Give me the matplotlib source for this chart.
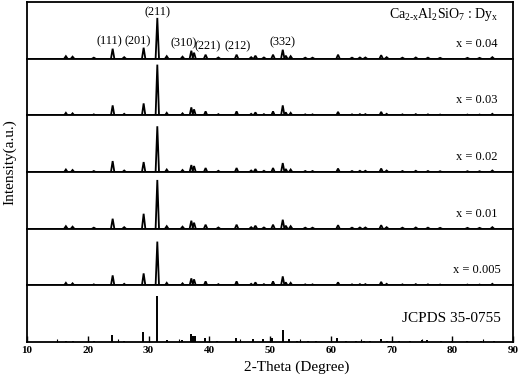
import matplotlib
matplotlib.use("Agg")
import matplotlib.pyplot as plt
from matplotlib.ticker import MultipleLocator

plt.rcParams['font.family'] = ['Liberation Serif', 'DejaVu Serif']
plt.rcParams['mathtext.fontset'] = 'custom'
plt.rcParams['mathtext.rm'] = 'Liberation Serif'
plt.rcParams['mathtext.it'] = 'Liberation Serif'

# ---- data ----
sample_labels = ["x = 0.04", "x = 0.03", "x = 0.02", "x = 0.01", "x = 0.005"]
peak_pos = [16.4, 17.5, 21.0, 24.1, 26.0, 29.2, 31.45, 33.0, 35.6, 37.05, 37.5, 39.4,
            41.5, 44.5, 46.9, 47.6, 49.0, 50.5, 52.1, 52.6, 53.4, 55.8, 57.0, 61.2,
            63.5, 64.8, 65.7, 68.3, 69.2, 71.8, 74.0, 76.0, 78.0, 82.5, 84.5, 86.6]
h_004 = [2.5, 2, 1, 10, 1.5, 11, 41, 2.5, 2, 8, 6, 4, 1.2, 4, 1.5, 3, 1.2, 4, 9, 3, 2.5,
         1, 1, 4, 1, 1.2, 1.2, 3.5, 1.5, 1, 1.2, 1, 0.8, 0.8, 0.8, 1.5]
h_003 = [2.5, 2, 1, 10, 1.5, 12, 51, 2.5, 2, 8, 6, 4, 1.2, 4, 1.5, 3, 1.2, 4, 10, 3, 2.5,
         1, 1, 3.5, 1, 1.2, 1.2, 3.5, 1.5, 1, 1.2, 1, 0.8, 0.8, 0.8, 1.5]
h_002 = [2.5, 2, 1, 11, 1.5, 10, 46, 2.5, 2, 7, 6, 4, 1.2, 4, 1.5, 3, 1.2, 4, 9, 3, 2.5,
         1, 1, 3.5, 1, 1.2, 1.2, 3.5, 1.5, 1, 1.2, 1, 0.8, 0.8, 0.8, 1.5]
h_001 = [2.5, 2, 1, 10, 1.5, 15, 49, 2.5, 2, 8, 6, 4, 1.2, 4, 1.5, 3, 1.2, 4, 9, 3, 2.5,
         1, 1, 3.5, 1, 1.2, 1.2, 3.5, 1.5, 1, 1.2, 1, 0.8, 0.8, 0.8, 1.5]
h_0005 = [2.5, 2, 1, 10, 1.5, 12, 44, 2.5, 2, 7, 6, 4, 1.2, 4, 1.5, 3, 1.2, 4, 9, 3, 2.5,
          1, 1, 3, 1, 1.2, 1.2, 3.5, 1.5, 1, 1.2, 1, 0.8, 0.8, 0.8, 1.5]
sample_heights = [h_004, h_003, h_002, h_001, h_0005]

jcpds_pos = [16.4, 17.6, 21.0, 24.0, 26.0, 29.1, 31.4, 33.0, 35.5, 37.0, 37.4, 37.6, 39.3,
             41.3, 44.4, 47.2, 48.8, 50.3, 52.1, 53.2, 54.5, 56.2, 57.5, 61.0, 62.5, 64.2,
             65.5, 66.5, 68.2, 69.3, 71.2, 73.0, 75.0, 75.8, 78.2, 80.0, 82.5, 84.8, 86.8]
jcpds_h = [1.5, 1.5, 1, 7, 1.5, 10, 46, 2, 2, 8.3, 6, 6, 4, 1, 4, 3, 3, 4, 11.7, 3, 1, 1,
           1, 4, 1, 1, 1, 1, 3, 1, 1, 1, 2, 2, 1, 1, 1, 1, 1.5]

hkl_labels = ["(111)", "(201)", "(211)", "(310)", "(221)", "(212)", "(332)"]
hkl_x = [23.5, 28.3, 31.4, 35.8, 39.8, 44.7, 52.1]
hkl_y = [17, 17, 47, 15, 12, 12, 16]

xticks = [10, 20, 30, 40, 50, 60, 70, 80, 90]

# ---- figure ----
fig = plt.figure(figsize=(5.2, 3.76), dpi=100)
gs = fig.add_gridspec(6, 1, left=27/520, right=513/520, top=1-2/376, bottom=1-342/376, hspace=0)
axes = [fig.add_subplot(gs[i, 0]) for i in range(6)]

half_w = 0.28
for i, ax in enumerate(axes):
    ax.set_xlim(10, 90)
    ax.set_ylim(0, 57)
    ax.set_yticks([])
    for s in ax.spines.values():
        s.set_linewidth(1.3)
    ax.tick_params(axis='x', which='both', direction='in', top=False, bottom=(i == 5),
                   labelbottom=(i == 5))
    if i < 5:
        for p, h in zip(peak_pos, sample_heights[i]):
            ax.plot([p - half_w, p, p + half_w], [0, h, 0], color='black', lw=1.3,
                    solid_joinstyle='miter')
        ax.text(84.0, 15, sample_labels[i], ha='center', va='center', fontsize=9)
    else:
        ax.vlines(jcpds_pos, 0, jcpds_h, color='black', lw=1.4)
        ax.text(79.8, 24, "JCPDS 35-0755", ha='center', va='center', fontsize=11)

top = axes[0]
for lab, x, y in zip(hkl_labels, hkl_x, hkl_y):
    top.text(x, y, lab, ha='center', va='center', fontsize=8.8)
top.text(78.6, 44, r'Ca$_{\mathregular{2\text{-}x}}$Al$_{\mathregular{2}}$SiO$_{\mathregular{7}}$ : Dy$_{\mathregular{x}}$',
         ha='center', va='center', fontsize=10)

bot = axes[5]
bot.set_xticks(xticks)
bot.xaxis.set_minor_locator(MultipleLocator(5))
bot.tick_params(axis='x', which='major', length=4, width=1.0, pad=3, labelsize=8)
bot.tick_params(axis='x', which='minor', length=2, width=0.8)
for lbl in bot.get_xticklabels():
    lbl.set_fontweight('bold')

fig.text(297/520, 1-367/376, "2-Theta (Degree)", ha='center', va='center', fontsize=11)
fig.text(10/520, 1-162/376, "Intensity(a.u.)", ha='center', va='center', rotation=90, fontsize=11)

fig.savefig("out.png", dpi=100)
